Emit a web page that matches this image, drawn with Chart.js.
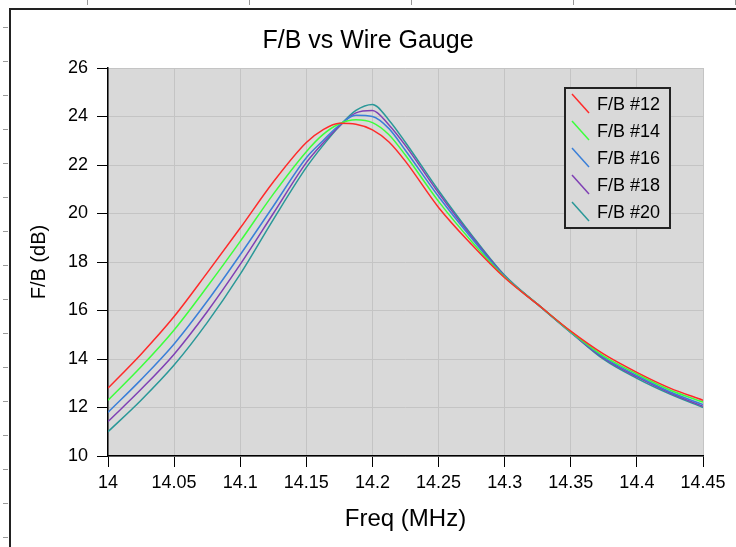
<!DOCTYPE html>
<html>
<head>
<meta charset="utf-8">
<script src="https://cdn.jsdelivr.net/npm/chart.js@4"></script>
<style>
    body { margin: 0; background: #fff; }
    #wrap {
        position: relative; width: 736px; height: 547px; overflow: hidden;
        /* ruler marks round the screenshot edge */
        background:
            repeating-linear-gradient(to bottom, transparent 0 27px, #999 27px 28px, transparent 28px 34px) 3px 0 / 5px 100% no-repeat,
            repeating-linear-gradient(to right, transparent 0 87px, #999 87px 88px, transparent 88px 162px) 0 0 / 100% 5px no-repeat;
    }
    #frame {
        position: absolute; left: 9px; top: 8px; right: -4px; bottom: -4px;
        border-left: 2px solid #222; border-top: 2px solid #222;
    }
    canvas { position: absolute; left: 0; top: 0; }
</style>
</head>
<body>
<div id="wrap">
    <div id="frame"></div>
    <canvas id="fbChart" width="736" height="547"></canvas>
</div>
<script>
const freqMHz = [14, 14.025, 14.05, 14.075, 14.1, 14.125, 14.15, 14.1625, 14.175, 14.1875, 14.2, 14.2125,
                 14.225, 14.25, 14.275, 14.3, 14.325, 14.35, 14.375, 14.4, 14.425, 14.45];
const fb12 = [12.8, 14.2, 15.75, 17.55, 19.4, 21.3, 22.93, 23.45, 23.72, 23.68, 23.45, 22.95,
              22.15, 20.25, 18.72, 17.35, 16.25, 15.15, 14.2, 13.45, 12.8, 12.3];
const fb14 = [12.3, 13.68, 15.2, 16.98, 18.85, 20.8, 22.55, 23.25, 23.7, 23.87, 23.75, 23.25,
              22.4, 20.5, 18.85, 17.38, 16.25, 15.12, 14.12, 13.38, 12.72, 12.22];
const fb16 = [11.8, 13.15, 14.62, 16.38, 18.3, 20.3, 22.3, 23.0, 23.65, 24.05, 24.0, 23.5,
              22.6, 20.7, 18.98, 17.4, 16.25, 15.1, 14.07, 13.32, 12.65, 12.12];
const fb18 = [11.42, 12.75, 14.2, 15.95, 17.9, 20.0, 22.1, 22.9, 23.6, 24.15, 24.25, 23.65,
              22.8, 20.85, 19.05, 17.42, 16.25, 15.1, 14.03, 13.26, 12.6, 12.05];
const fb20 = [11.0, 12.3, 13.75, 15.5, 17.5, 19.75, 21.9, 22.8, 23.6, 24.25, 24.5, 23.85,
              22.93, 20.95, 19.12, 17.45, 16.25, 15.1, 13.98, 13.2, 12.55, 12.0];

const seriesLabels = ['F/B #12', 'F/B #14', 'F/B #16', 'F/B #18', 'F/B #20'];
const seriesColors = ['#ff2a2a', '#3cff3c', '#3a7fd8', '#7f40b4', '#2a9898'];
const xTicks = [14, 14.05, 14.1, 14.15, 14.2, 14.25, 14.3, 14.35, 14.4, 14.45];
const yTicks = [10, 12, 14, 16, 18, 20, 22, 24, 26];

Chart.defaults.font.family = '"Liberation Sans", Arial, sans-serif';
Chart.defaults.color = '#000';

const toPoints = ys => ys.map((y, i) => ({ x: freqMHz[i], y: y }));

// grey plot area
const plotBackground = {
    id: 'plotBackground',
    beforeDraw(chart) {
        const { ctx, chartArea: a } = chart;
        ctx.save();
        ctx.fillStyle = '#d9d9d9';
        ctx.fillRect(a.left, a.top, a.right - a.left, a.bottom - a.top);
        ctx.restore();
    }
};

// boxed legend with slanted line samples, inside the plot
const boxLegend = {
    id: 'boxLegend',
    afterDraw(chart) {
        const ctx = chart.ctx;
        const left = 565, top = 88, w = 105, h = 140, rowH = 27;
        ctx.save();
        ctx.fillStyle = '#d9d9d9';
        ctx.fillRect(left, top, w, h);
        ctx.strokeStyle = '#222';
        ctx.lineWidth = 2;
        ctx.strokeRect(left, top, w, h);
        ctx.font = '18px "Liberation Sans", Arial, sans-serif';
        ctx.textBaseline = 'middle';
        chart.data.datasets.forEach((ds, i) => {
            const cy = top + 16 + i * rowH;
            ctx.strokeStyle = ds.borderColor;
            ctx.lineWidth = 1.5;
            ctx.beginPath();
            ctx.moveTo(left + 7, cy - 10);
            ctx.lineTo(left + 24, cy + 9);
            ctx.stroke();
            ctx.fillStyle = '#000';
            ctx.fillText(ds.label, left + 32, cy + 1);
        });
        ctx.restore();
    }
};

new Chart(document.getElementById('fbChart'), {
    type: 'line',
    data: {
        datasets: [fb12, fb14, fb16, fb18, fb20].map((ys, i) => ({
            label: seriesLabels[i],
            data: toPoints(ys),
            borderColor: seriesColors[i],
            borderWidth: 1.5,
            pointRadius: 0,
            cubicInterpolationMode: 'monotone'
        }))
    },
    options: {
        responsive: false,
        animation: false,
        devicePixelRatio: 1,
        plugins: {
            legend: { display: false },
            tooltip: { enabled: false },
            title: {
                display: true,
                text: 'F/B vs Wire Gauge',
                font: { size: 25, weight: 'normal' },
                padding: { top: 26, bottom: 12 }
            }
        },
        scales: {
            x: {
                type: 'linear',
                min: 14,
                max: 14.45,
                afterBuildTicks: s => { s.ticks = xTicks.map(v => ({ value: v })); },
                afterFit: s => { s.height = 91; s.paddingRight = 33; },
                ticks: {
                    font: { size: 18 },
                    padding: 5,
                    maxRotation: 0,
                    autoSkip: false,
                    callback: v => String(v)
                },
                grid: { color: '#c4c4c4', tickColor: '#000', tickLength: 11 },
                border: { color: '#000', width: 1.5 },
                title: {
                    display: true,
                    text: 'Freq (MHz)',
                    font: { size: 24 },
                    padding: { top: 0, bottom: 13 }
                }
            },
            y: {
                min: 10,
                max: 26,
                afterBuildTicks: s => { s.ticks = yTicks.map(v => ({ value: v })); },
                afterFit: s => { s.width = 108; },
                ticks: { font: { size: 18 }, padding: 9, callback: v => String(v) },
                grid: { color: '#c4c4c4', tickColor: '#000', tickLength: 11 },
                border: { color: '#000', width: 1.5 },
                title: {
                    display: true,
                    text: 'F/B (dB)',
                    font: { size: 20 },
                    padding: { top: 27, bottom: 0 }
                }
            }
        }
    },
    plugins: [plotBackground, boxLegend]
});
</script>
</body>
</html>
